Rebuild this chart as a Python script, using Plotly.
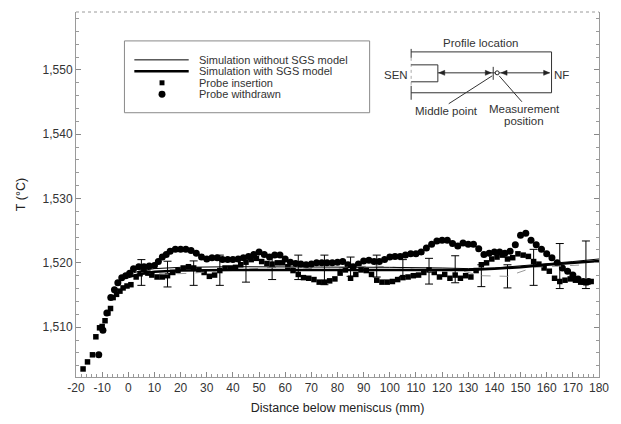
import plotly.graph_objects as go

# ---------------- data ----------------
ins_x = [-17.3, -15.6, -13.7, -12.4, -11, -10, -8.9, -7.8, -6.8, -5.8, -4.5, -3.2, -2, -0.5, 1, 3, 4.5, 6, 7.5, 9,
         11, 13, 15, 17, 19, 21, 23, 25, 27, 29, 31, 33, 35, 37, 39, 41, 43, 45, 47, 49,
         51, 53, 55, 57, 59, 61, 63, 65, 67, 69, 71, 73, 75, 77, 79, 81, 83, 85, 87, 89,
         91, 93, 95, 97, 99, 101, 103, 105, 107, 109, 111, 113, 115, 117, 119, 121, 123, 125, 127, 129,
         131, 133, 135, 137, 139, 141, 143, 145, 147, 149, 151, 153, 155, 157, 159, 161, 163, 165, 167, 169,
         171, 173, 175, 177]
ins_y = [1503.5, 1504.6, 1505.7, 1508.5, 1509.9, 1510.1, 1511.0, 1512.2, 1512.9, 1514.6, 1515.1, 1515.6, 1516.1, 1516.4, 1516.6, 1517.8, 1518.3, 1518.6, 1518.4, 1518.1,
         1517.8, 1517.8, 1518.0, 1518.5, 1518.8, 1519.2, 1519.4, 1519.2, 1518.9, 1518.5, 1517.9, 1518.1, 1518.8, 1519.2, 1519.2, 1519.3, 1519.7, 1520.1, 1520.5, 1520.7,
         1520.2, 1519.9, 1519.8, 1520.0, 1520.0, 1519.4, 1518.8, 1518.2, 1517.7, 1517.6, 1517.4, 1517.0, 1517.0, 1517.2, 1517.5, 1518.4, 1518.9, 1517.6, 1518.2, 1518.9,
         1518.8, 1518.2, 1517.3, 1517.0, 1517.0, 1517.1, 1517.4, 1517.7, 1517.8, 1518.0, 1518.1, 1518.5, 1518.9, 1518.5, 1517.8, 1518.2, 1517.6, 1518.1, 1517.6, 1518.0,
         1517.8, 1518.8, 1519.7, 1520.0, 1520.6, 1520.9, 1521.2, 1520.6, 1520.8, 1521.4, 1521.2, 1521.0, 1520.2, 1519.8, 1519.2, 1518.7, 1517.6, 1517.1, 1517.3, 1517.5,
         1517.3, 1517.0, 1516.9, 1517.1]

wd_x = [-11.3, -9.7, -8.2, -6.7, -5.3, -4, -2.5, -1, 0.5, 2, 4, 6, 8, 10, 11.5, 13, 14.5, 16, 18, 20,
        22, 24, 26, 28, 30, 32, 34, 36, 38, 40, 42, 44, 46, 48, 50, 52, 54, 56, 58, 60,
        62, 64, 66, 68, 70, 72, 74, 76, 78, 80, 82, 84, 86, 88, 90, 92, 94, 96, 98, 100,
        102, 104, 106, 108, 110, 112, 114, 116, 118, 120, 122, 124, 126, 128, 130, 132, 134, 136, 138, 140,
        142, 144, 146, 148, 150, 152, 154, 156, 158, 160, 162, 164, 166, 168, 170, 172, 174, 176]
wd_y = [1505.7, 1509.5, 1512.2, 1514.6, 1515.8, 1516.9, 1517.7, 1518.0, 1518.4, 1519.1, 1519.4, 1519.4, 1519.5, 1519.6, 1520.2, 1520.9, 1521.3, 1521.8, 1522.1, 1522.1,
        1522.1, 1521.9, 1521.5, 1520.9, 1520.6, 1520.8, 1520.8, 1520.5, 1520.5, 1520.5, 1520.6, 1520.8, 1521.0, 1521.3, 1521.7, 1521.3, 1520.9, 1521.2, 1521.2, 1520.6,
        1520.1, 1519.9, 1519.8, 1519.7, 1519.8, 1520.0, 1520.0, 1520.0, 1520.0, 1520.1, 1520.2, 1519.7, 1519.4, 1519.8, 1520.3, 1520.4, 1520.2, 1520.2, 1520.5, 1520.9,
        1521.0, 1521.0, 1521.2, 1521.4, 1521.4, 1521.7, 1522.3, 1522.9, 1523.4, 1523.5, 1523.5, 1523.0, 1522.6, 1523.1, 1522.9, 1522.9, 1522.2, 1521.3, 1521.5, 1521.7,
        1521.7, 1521.5, 1521.8, 1522.8, 1524.3, 1524.6, 1523.5, 1522.8, 1522.1, 1521.4, 1520.8, 1520.0, 1519.2, 1518.7, 1518.1, 1517.5, 1517.1, 1517.1]

sim_x = [0, 5, 10, 20, 40, 60, 80, 100, 120, 130, 140, 150, 160, 170, 180]
sim_no_sgs = [1518.2, 1518.8, 1519.1, 1519.3, 1519.4, 1519.4, 1519.3, 1519.3, 1519.2, 1519.1, 1519.2, 1519.5, 1519.9, 1520.2, 1520.6]
sim_sgs = [1517.8, 1518.3, 1518.6, 1518.8, 1518.9, 1518.9, 1518.9, 1518.9, 1518.9, 1518.9, 1519.1, 1519.3, 1519.7, 1520.0, 1520.3]

eb_x = [5, 15, 25, 35, 45, 55, 65, 75, 85, 95, 105, 115, 125, 135, 145, 155, 165, 175]
eb_mean = [1518.5, 1518.25, 1518.4, 1518.85, 1519.0, 1519.3, 1519.3, 1518.9, 1519.4, 1519.5, 1519.2, 1518.7, 1519.0, 1518.0, 1517.9, 1519.3, 1519.5, 1519.7]
eb_err = [2.0, 2.0, 1.9, 2.35, 2.0, 1.9, 1.9, 2.3, 1.5, 1.7, 1.3, 2.0, 2.1, 1.7, 1.8, 2.8, 3.5, 3.7]

x_ticks = [-20, -10, 0, 10, 20, 30, 40, 50, 60, 70, 80, 90, 100, 110, 120, 130, 140, 150, 160, 170, 180]
x_labels = ["-20", "-10", "0", "10", "20", "30", "40", "50", "60", "70", "80", "90", "100", "110", "120",
            "130", "140", "150", "160", "170", "180"]
y_ticks = [1510, 1520, 1530, 1540, 1550]
y_labels = ["1,510", "1,520", "1,530", "1,540", "1,550"]

legend_labels = ["Simulation without SGS model", "Simulation with SGS model", "Probe insertion", "Probe withdrawn"]

# ---------------- layout geometry (pixels) ----------------
W, H = 621, 424
PL, PR, PT, PB = 76, 605, 12, 378
FONT = "Liberation Sans, Arial, sans-serif"


def px(x):
    return (x - PL) / (PR - PL)


def py(y):
    return (PB - y) / (PB - PT)


fig = go.Figure()

fig.add_trace(go.Scatter(x=ins_x, y=ins_y, mode="markers", name=legend_labels[2],
                         marker=dict(symbol="square", size=5.5, color="black"), showlegend=False))
fig.add_trace(go.Scatter(x=wd_x, y=wd_y, mode="markers", name=legend_labels[3],
                         marker=dict(symbol="circle", size=7, color="black"), showlegend=False))
fig.add_trace(go.Scatter(x=eb_x, y=eb_mean, mode="lines", showlegend=False,
                         line=dict(color="#9a9a9a", width=1, dash="dash"),
                         error_y=dict(type="data", array=eb_err, color="black", thickness=1, width=4)))
fig.add_trace(go.Scatter(x=sim_x, y=sim_no_sgs, mode="lines", name=legend_labels[0],
                         line=dict(color="black", width=1), showlegend=False))
fig.add_trace(go.Scatter(x=sim_x, y=sim_sgs, mode="lines", name=legend_labels[1],
                         line=dict(color="black", width=2.5), showlegend=False))

shapes = []
annotations = []

# top dotted border
shapes.append(dict(type="line", xref="paper", yref="paper", x0=0, x1=1, y0=1, y1=1,
                   line=dict(color="#9a9a9a", width=1, dash="dot")))

# ---- manual legend ----
shapes.append(dict(type="rect", xref="paper", yref="paper", x0=px(125), x1=px(373), y0=py(41), y1=py(113),
                   line=dict(color="#8a8a8a", width=1), fillcolor="white", layer="below"))
rows = [60, 71.5, 83, 94.5]
shapes.append(dict(type="line", xref="paper", yref="paper", x0=px(135), x1=px(190), y0=py(rows[0]), y1=py(rows[0]),
                   line=dict(color="black", width=1)))
shapes.append(dict(type="line", xref="paper", yref="paper", x0=px(135), x1=px(190), y0=py(rows[1]), y1=py(rows[1]),
                   line=dict(color="black", width=2.5)))
shapes.append(dict(type="rect", xref="paper", yref="paper", x0=px(160.5), x1=px(165.5), y0=py(rows[2] - 2.5),
                   y1=py(rows[2] + 2.5), line=dict(width=0), fillcolor="black"))
shapes.append(dict(type="circle", xref="paper", yref="paper", x0=px(159.5), x1=px(166.5), y0=py(rows[3] - 3.5),
                   y1=py(rows[3] + 3.5), line=dict(width=0), fillcolor="black"))
for r, lab in zip(rows, legend_labels):
    annotations.append(dict(xref="paper", yref="paper", x=px(199), y=py(r), text=lab, showarrow=False,
                            xanchor="left", yanchor="middle", borderpad=0,
                            font=dict(family=FONT, size=11, color="#333")))

# ---- inset diagram ----
def seg(x0, y0, x1, y1, color="#333", width=1, dash=None):
    d = dict(type="line", xref="paper", yref="paper", x0=px(x0), x1=px(x1), y0=py(y0), y1=py(y1),
             line=dict(color=color, width=width))
    if dash:
        d["line"]["dash"] = dash
    shapes.append(d)


def tri(xt, yt, direction, length=6, half=2.5):
    xb = xt - length if direction == "right" else xt + length
    path = "M {} {} L {} {} L {} {} Z".format(px(xt), py(yt), px(xb), py(yt - half), px(xb), py(yt + half))
    shapes.append(dict(type="path", xref="paper", yref="paper", path=path, fillcolor="#222",
                       line=dict(color="#222", width=0.5)))


seg(415, 52, 557, 52)
seg(557, 52, 557, 93)
seg(415, 93, 557, 93)
seg(415, 49, 415, 58)
seg(415, 86, 415, 100)
seg(415, 58, 415, 86, color="#aaa", dash="dot")
seg(415, 65, 442, 65)
seg(442, 65, 442, 82)
seg(415, 82, 442, 82)
seg(442, 73, 555, 73)
tri(443, 73, "left")
tri(496, 73, "right")
tri(506, 73, "left")
tri(555, 73, "right")
seg(498, 67, 498, 80)
shapes.append(dict(type="circle", xref="paper", yref="paper", x0=px(500), x1=px(504), y0=py(71), y1=py(75),
                   line=dict(color="#222", width=1), fillcolor="white"))
seg(453, 104, 497, 76)
seg(527, 102, 504, 76)

inset_font = dict(family=FONT, size=11.5, color="#333")
for (tx, ty, txt) in [(485, 43, "Profile location"), (400, 75, "SEN"), (567, 75, "NF"),
                      (451, 111, "Middle point"), (530, 109, "Measurement"), (529, 121, "position")]:
    annotations.append(dict(xref="paper", yref="paper", x=px(tx), y=py(ty), text=txt, showarrow=False,
                            xanchor="center", yanchor="middle", borderpad=0, font=inset_font))

fig.update_layout(
    width=W, height=H,
    margin=dict(l=PL, r=W - PR, t=PT, b=H - PB, pad=0),
    paper_bgcolor="white", plot_bgcolor="white",
    font=dict(family=FONT, size=12, color="#333"),
    showlegend=False,
    shapes=shapes,
    annotations=annotations,
    xaxis=dict(range=[-20, 180], tickmode="array", tickvals=x_ticks, ticktext=x_labels,
               ticks="inside", ticklen=5, tickcolor="#888", tickwidth=1,
               showline=True, linecolor="#9a9a9a", linewidth=1, mirror=False,
               showgrid=False, zeroline=False,
               minor=dict(dtick=2, tick0=0, ticks="inside", ticklen=3, tickcolor="#999", showgrid=False),
               tickfont=dict(family=FONT, size=12, color="#333"),
               title=dict(text="Distance below meniscus (mm)", font=dict(family=FONT, size=12.5, color="#222"),
                          standoff=8)),
    yaxis=dict(range=[1502.25, 1559], tickmode="array", tickvals=y_ticks, ticktext=y_labels,
               ticks="inside", ticklen=5, tickcolor="#888", tickwidth=1,
               showline=True, linecolor="#9a9a9a", linewidth=1, mirror="allticks",
               showgrid=False, zeroline=False,
               minor=dict(dtick=2, tick0=1510, ticks="inside", ticklen=3, tickcolor="#999", showgrid=False),
               tickfont=dict(family=FONT, size=12, color="#333"),
               title=dict(text="T (°C)", font=dict(family=FONT, size=12.5, color="#222"), standoff=14)),
)

fig.write_html("out.html")
